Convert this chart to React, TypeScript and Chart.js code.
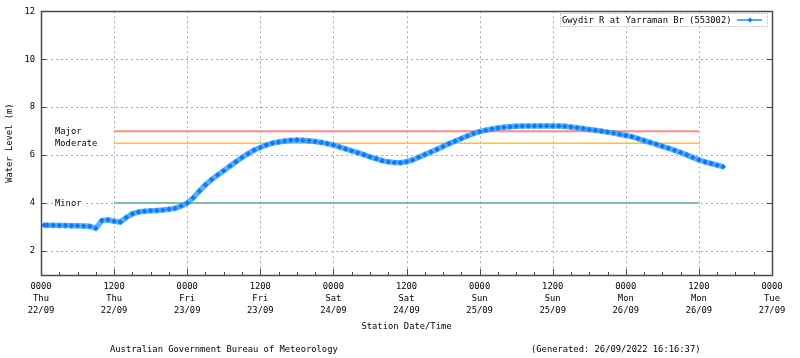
import React, { useEffect, useRef } from "react";
import { Chart, registerables } from "chart.js";

Chart.register(...registerables);

// Hours since 0000 Thu 22/09
const hours = [
  0.5, 1, 2, 3, 4, 5, 6, 7, 8, 9, 10, 11, 12, 13, 14, 15, 16, 17, 18, 19, 20,
  21, 22, 23, 24, 25, 26, 27, 28, 29, 30, 31, 32, 33, 34, 35, 36, 37, 38, 39,
  40, 41, 42, 43, 44, 45, 46, 47, 48, 49, 50, 51, 52, 53, 54, 55, 56, 57, 58,
  59, 60, 61, 62, 63, 64, 65, 66, 67, 68, 69, 70, 71, 72, 73, 74, 75, 76, 77,
  78, 79, 80, 81, 82, 83, 84, 85, 86, 87, 88, 89, 90, 91, 92, 93, 94, 95, 96,
  97, 98, 99, 100, 101, 102, 103, 104, 105, 106, 107, 108, 109, 110, 111, 112,
];

// Water level (m)
const waterLevel = [
  3.08, 3.08, 3.07, 3.06, 3.06, 3.05, 3.05, 3.04, 3.03, 2.95, 3.27, 3.3, 3.24,
  3.21, 3.4, 3.55, 3.63, 3.66, 3.68, 3.69, 3.71, 3.74, 3.78, 3.88, 4.0, 4.22,
  4.5, 4.76, 4.98, 5.17, 5.35, 5.54, 5.72, 5.9, 6.06, 6.21, 6.32, 6.42, 6.5,
  6.55, 6.59, 6.62, 6.63, 6.62, 6.6, 6.57, 6.53, 6.48, 6.42, 6.34, 6.26, 6.18,
  6.1, 6.02, 5.93, 5.85, 5.77, 5.72, 5.69, 5.68, 5.72, 5.8, 5.91, 6.02, 6.13,
  6.24, 6.36, 6.48, 6.59, 6.69, 6.8, 6.9, 6.98, 7.04, 7.09, 7.13, 7.16, 7.18,
  7.2, 7.21, 7.21, 7.22, 7.22, 7.22, 7.21, 7.21, 7.2, 7.17, 7.14, 7.11, 7.07,
  7.04, 7.0, 6.96, 6.92, 6.87, 6.82, 6.77, 6.69, 6.61, 6.53, 6.45, 6.37, 6.29,
  6.2, 6.11, 6.01, 5.9, 5.8, 5.72, 5.65, 5.58, 5.51,
];

// Flood classification levels
const floodNames = ["Major", "Moderate", "Minor"];
const floodLevels = [7.0, 6.5, 4.0];
const floodColors = ["#ff8a8a", "#ffc22a", "#80c0a0"];
const floodStart = 12;
const floodEnd = 108;

// X tick labels
const xTickValues = [0, 12, 24, 36, 48, 60, 72, 84, 96, 108, 120];
const timeLabels = ["0000", "1200", "0000", "1200", "0000", "1200", "0000", "1200", "0000", "1200", "0000"];
const dayLabels = ["Thu", "Thu", "Fri", "Fri", "Sat", "Sat", "Sun", "Sun", "Mon", "Mon", "Tue"];
const dateLabels = ["22/09", "22/09", "23/09", "23/09", "24/09", "24/09", "25/09", "25/09", "26/09", "26/09", "27/09"];
const xMinorStep = 3;

// Y ticks
const yTickValues = [2, 4, 6, 8, 10, 12];

const seriesName = "Gwydir R at Yarraman Br (553002)";
const yTitle = "Water Level (m)";
const xTitle = "Station Date/Time";
const footerLeft = "Australian Government Bureau of Meteorology";
const footerRight = "(Generated: 26/09/2022 16:16:37)";

const FONT = '"DejaVu Sans Mono", "Liberation Mono", monospace';
const FS = 8.8;
const BLUE_DARK = "#0a7af8";

const decorPlugin = {
  id: "decor",
  beforeDatasetsDraw(chart: any) {
    const { ctx, chartArea: a, scales } = chart;
    const xs = scales.x;
    const ys = scales.y;
    ctx.save();
    ctx.strokeStyle = "#a8a8a8";
    ctx.lineWidth = 1;
    ctx.setLineDash([2, 3]);
    xTickValues.forEach((v) => {
      if (v <= xs.min || v >= xs.max) return;
      const px = Math.round(xs.getPixelForValue(v)) + 0.5;
      ctx.beginPath();
      ctx.moveTo(px, a.top);
      ctx.lineTo(px, a.bottom);
      ctx.stroke();
    });
    yTickValues.forEach((v) => {
      if (v <= ys.min || v >= ys.max) return;
      const py = Math.round(ys.getPixelForValue(v)) + 0.5;
      ctx.beginPath();
      ctx.moveTo(a.left, py);
      ctx.lineTo(a.right, py);
      ctx.stroke();
    });
    ctx.setLineDash([]);
    // flood labels
    ctx.fillStyle = "#000";
    ctx.font = `${FS}px ${FONT}`;
    ctx.textBaseline = "middle";
    ctx.textAlign = "left";
    floodNames.forEach((n, i) => {
      const py = ys.getPixelForValue(floodLevels[i]);
      const tw = ctx.measureText(n).width;
      ctx.fillStyle = "#fff";
      ctx.fillRect(54, py - 5, tw + 2, 10);
      ctx.fillStyle = "#000";
      ctx.fillText(n, 55, py + 0.5);
    });
    ctx.restore();
  },
  afterDraw(chart: any) {
    const { ctx, chartArea: a, scales } = chart;
    const xs = scales.x;
    const ys = scales.y;
    ctx.save();
    // frame
    ctx.strokeStyle = "#4a4a4a";
    ctx.lineWidth = 1.5;
    ctx.strokeRect(Math.round(a.left) + 0.5, Math.round(a.top) + 0.5, Math.round(a.right - a.left), Math.round(a.bottom - a.top));
    ctx.lineWidth = 1;
    // x ticks (inward)
    for (let v = xs.min; v <= xs.max; v += xMinorStep) {
      const px = Math.round(xs.getPixelForValue(v)) + 0.5;
      const len = v % 12 === 0 ? 6 : 3;
      ctx.beginPath();
      ctx.moveTo(px, a.bottom);
      ctx.lineTo(px, a.bottom - len);
      ctx.stroke();
    }
    // y ticks (inward both sides)
    yTickValues.forEach((v) => {
      const py = Math.round(ys.getPixelForValue(v)) + 0.5;
      ctx.beginPath();
      ctx.moveTo(a.left, py);
      ctx.lineTo(a.left + 5, py);
      ctx.moveTo(a.right, py);
      ctx.lineTo(a.right - 5, py);
      ctx.stroke();
    });
    // texts
    ctx.fillStyle = "#000";
    ctx.font = `${FS}px ${FONT}`;
    ctx.textBaseline = "middle";
    ctx.textAlign = "center";
    ctx.fillText(xTitle, (a.left + a.right) / 2, 327);
    ctx.textAlign = "left";
    ctx.fillText(footerLeft, 110, 350);
    ctx.fillText(footerRight, 531, 350);
    ctx.save();
    ctx.translate(10, (a.top + a.bottom) / 2);
    ctx.rotate(-Math.PI / 2);
    ctx.textAlign = "center";
    ctx.fillText(yTitle, 0, 0);
    ctx.restore();
    // legend
    ctx.fillStyle = "#fff";
    ctx.fillRect(560, 13, 208, 14);
    ctx.strokeStyle = "#999";
    ctx.setLineDash([1, 2]);
    ctx.strokeRect(560.5, 13.5, 207, 13);
    ctx.setLineDash([]);
    ctx.fillStyle = "#000";
    ctx.textAlign = "left";
    ctx.fillText(seriesName, 562, 20.5);
    ctx.strokeStyle = "#5aaaff";
    ctx.lineWidth = 2;
    ctx.beginPath();
    ctx.moveTo(737, 20);
    ctx.lineTo(762, 20);
    ctx.stroke();
    ctx.fillStyle = BLUE_DARK;
    ctx.beginPath();
    ctx.moveTo(750, 17.5);
    ctx.lineTo(752.5, 20);
    ctx.lineTo(750, 22.5);
    ctx.lineTo(747.5, 20);
    ctx.closePath();
    ctx.fill();
    ctx.restore();
  },
};

function App() {
  const ref = useRef<HTMLCanvasElement | null>(null);
  useEffect(() => {
    if (!ref.current) return;
    const datasets: any[] = [
      {
        label: seriesName,
        data: hours.map((h, i) => ({ x: h, y: waterLevel[i] })),
        borderColor: "rgba(50,155,255,0.8)",
        borderWidth: 5.5,
        pointStyle: "rectRot",
        pointRadius: 2.8,
        pointBorderWidth: 0,
        pointBackgroundColor: BLUE_DARK,
        tension: 0,
      },
    ];
    floodNames.forEach((n, i) => {
      datasets.push({
        label: n,
        data: [
          { x: floodStart, y: floodLevels[i] },
          { x: floodEnd, y: floodLevels[i] },
        ],
        borderColor: floodColors[i],
        borderWidth: i === 1 ? 1.5 : 2,
        pointRadius: 0,
      });
    });
    const chart = new Chart(ref.current, {
      type: "line",
      data: { datasets },
      options: {
        responsive: false,
        animation: false,
        devicePixelRatio: 1,
        layout: { padding: { top: 11, right: 28, left: 0, bottom: 0 } },
        plugins: { legend: { display: false }, tooltip: { enabled: false } },
        scales: {
          x: {
            type: "linear",
            min: 0,
            max: 120,
            afterBuildTicks: (s: any) => {
              s.ticks = xTickValues.map((v) => ({ value: v }));
            },
            afterFit: (s: any) => {
              s.height = 83;
            },
            ticks: {
              autoSkip: false,
              maxRotation: 0,
              padding: 6,
              color: "#000",
              font: { family: FONT, size: FS, lineHeight: 12 / FS },
              callback: (_v: any, i: number) => [timeLabels[i], dayLabels[i], dateLabels[i]],
            },
            grid: { display: false, drawTicks: false },
            border: { display: false },
          },
          y: {
            type: "linear",
            min: 1,
            max: 12,
            afterBuildTicks: (s: any) => {
              s.ticks = yTickValues.map((v) => ({ value: v }));
            },
            afterFit: (s: any) => {
              s.width = 41;
            },
            ticks: {
              padding: 6,
              color: "#000",
              font: { family: FONT, size: FS },
              callback: (v: any) => String(v),
            },
            grid: { display: false, drawTicks: false },
            border: { display: false },
          },
        },
      },
      plugins: [decorPlugin],
    });
    return () => chart.destroy();
  }, []);
  return (
    <div style={{ position: "absolute", left: 0, top: 0, width: 800, height: 358, background: "#fff" }}>
      <canvas ref={ref} width={800} height={358} style={{ width: 800, height: 358 }} />
    </div>
  );
}

export default App;
